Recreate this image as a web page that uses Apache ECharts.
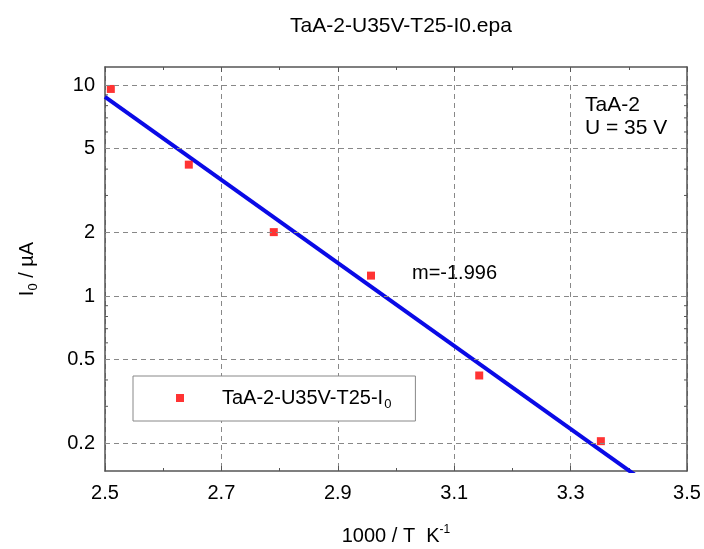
<!DOCTYPE html>
<html>
<head>
<meta charset="utf-8">
<script src="https://cdn.jsdelivr.net/npm/echarts@6/dist/echarts.min.js"></script>
<style>
  html, body { margin: 0; padding: 0; background: #fff; }
  #main { width: 704px; height: 549px; }
</style>
</head>
<body>
<div id="main"></div>
<script>
// measured points: 1000/T (1/K) vs I0 (uA)
var invT = [2.510, 2.644, 2.790, 2.957, 3.143, 3.352];
var current = [9.6, 4.2, 2.01, 1.25, 0.42, 0.205];
// fitted line end points (slope m = -1.996 per decade)
var fitX = [2.5, 3.42];
var fitY = [8.8, 0.136];
var yMajor = [0.2, 0.5, 1, 2, 5, 10];
var yMinor = [0.3, 0.4, 0.6, 0.7, 0.8, 0.9, 3, 4, 6, 7, 8, 9];

var FONT = '"Liberation Sans", Arial, sans-serif';
var FS = 20;
var AXIS_COLOR = '#555';
var GRID_COLOR = '#888';

var chart = echarts.init(document.getElementById('main'));

var pts = invT.map(function (x, i) { return [x, current[i]]; });
var fit = fitX.map(function (x, i) { return [x, fitY[i]]; });

var option = {
  animation: false,
  backgroundColor: '#fff',
  textStyle: { fontFamily: FONT },
  title: {
    text: 'TaA-2-U35V-T25-I0.epa',
    left: 396,
    textAlign: 'center',
    top: 11,
    textStyle: { fontFamily: FONT, fontSize: 21, fontWeight: 'normal', color: '#000' }
  },
  grid: { left: 105, top: 67, right: 17, bottom: 78, outerBoundsMode: 'none' },
  legend: {
    left: 133,
    top: 376,
    orient: 'vertical',
    data: ['TaA-2-U35V-T25-I0'],
    icon: 'rect',
    itemWidth: 8,
    itemHeight: 8,
    padding: [12, 24, 10, 43],
    backgroundColor: '#fff',
    borderColor: '#888',
    borderWidth: 1,
    formatter: function () { return '{n|TaA-2-U35V-T25-I}{s|0}'; },
    textStyle: {
      rich: {
        n: { fontFamily: FONT, fontSize: FS, color: '#000', padding: [0, 0, 0, 33] },
        s: { fontFamily: FONT, fontSize: 13, color: '#000', padding: [13, 0, 0, 1] }
      }
    }
  },
  xAxis: [{
    type: 'value',
    min: 2.5,
    max: 3.5,
    interval: 0.2,
    name: '{a|1000 / T  K}{p|-1}',
    nameLocation: 'middle',
    nameGap: 53,
    nameTextStyle: {
      rich: {
        a: { fontFamily: FONT, fontSize: FS, color: '#000' },
        p: { fontFamily: FONT, fontSize: 12, color: '#000', padding: [0, 0, 13, 0] }
      }
    },
    axisLine: { show: true, onZero: false, lineStyle: { color: AXIS_COLOR, width: 1.5 } },
    axisTick: { show: true, inside: true, length: 5, lineStyle: { color: AXIS_COLOR } },
    minorTick: { show: true, splitNumber: 2, length: 3, lineStyle: { color: AXIS_COLOR } },
    axisLabel: { fontFamily: FONT, fontSize: FS, color: '#000', margin: 12,
      formatter: function (v) { return v.toFixed(1); } },
    splitLine: { show: true, lineStyle: { color: GRID_COLOR, type: [5, 4], width: 1 } }
  }, {
    type: 'value',
    position: 'top',
    min: 2.5,
    max: 3.5,
    interval: 0.2,
    axisLine: { show: true, onZero: false, lineStyle: { color: AXIS_COLOR, width: 1.5 } },
    axisTick: { show: true, inside: true, length: 5, lineStyle: { color: AXIS_COLOR } },
    minorTick: { show: true, splitNumber: 2, length: 3, lineStyle: { color: AXIS_COLOR } },
    axisLabel: { show: false },
    splitLine: { show: false }
  }],
  yAxis: [{
    type: 'log',
    min: 0.148,
    max: 12.2,
    name: '{a|I}{b|0}{a| / µA}',
    nameLocation: 'middle',
    nameGap: 65,
    nameRotate: 90,
    nameTextStyle: {
      rich: {
        a: { fontFamily: FONT, fontSize: FS, color: '#000' },
        b: { fontFamily: FONT, fontSize: 13, color: '#000', padding: [13, 0, 0, 0] }
      }
    },
    axisLine: { show: true, onZero: false, lineStyle: { color: AXIS_COLOR, width: 1.5 } },
    axisTick: { show: false },
    axisLabel: { show: false },
    splitLine: { show: false }
  }, {
    type: 'log',
    position: 'right',
    min: 0.148,
    max: 12.2,
    axisLine: { show: true, onZero: false, lineStyle: { color: AXIS_COLOR, width: 1.5 } },
    axisTick: { show: false },
    axisLabel: { show: false },
    splitLine: { show: false }
  }],
  graphic: [
    { type: 'text', left: 585, top: 94,
      style: { text: 'TaA-2\nU = 35 V', font: '21px ' + FONT, fill: '#000', lineHeight: 23 } },
    { type: 'text', left: 412, top: 263,
      style: { text: 'm=-1.996', font: FS + 'px ' + FONT, fill: '#000' } }
  ],
  series: [
    {
      name: 'minor ticks',
      type: 'custom',
      silent: true,
      data: yMinor.map(function (v) { return [v]; }),
      encode: { y: 0 },
      renderItem: function (params, api) {
        var cs = params.coordSys;
        var y = api.coord([2.5, api.value(0)])[1];
        var st = { stroke: AXIS_COLOR, lineWidth: 1 };
        return {
          type: 'group',
          children: [
            { type: 'line', shape: { x1: cs.x, y1: y, x2: cs.x + 3, y2: y }, style: st },
            { type: 'line', shape: { x1: cs.x + cs.width - 3, y1: y, x2: cs.x + cs.width, y2: y }, style: st }
          ]
        };
      }
    },
    {
      name: 'fit',
      type: 'line',
      data: fit,
      symbol: 'none',
      clip: true,
      lineStyle: { color: '#0a0ae6', width: 4 },
      z: 3
    },
    {
      name: 'TaA-2-U35V-T25-I0',
      type: 'scatter',
      data: pts,
      symbol: 'rect',
      symbolSize: 8,
      itemStyle: { color: '#ff0000' },
      z: 4,
      markLine: {
        silent: true,
        symbol: ['none', 'none'],
        lineStyle: { color: GRID_COLOR, type: [5, 4], width: 1 },
        label: {
          show: true,
          position: 'start',
          distance: 10,
          fontFamily: FONT,
          fontSize: FS,
          color: '#000',
          formatter: function (p) { return String(p.value); }
        },
        emphasis: { disabled: true },
        data: yMajor.map(function (v) { return { yAxis: v }; })
      }
    }
  ]
};

chart.setOption(option);
window.addEventListener('resize', function () {
  chart.resize();
});
</script>
</body>
</html>
